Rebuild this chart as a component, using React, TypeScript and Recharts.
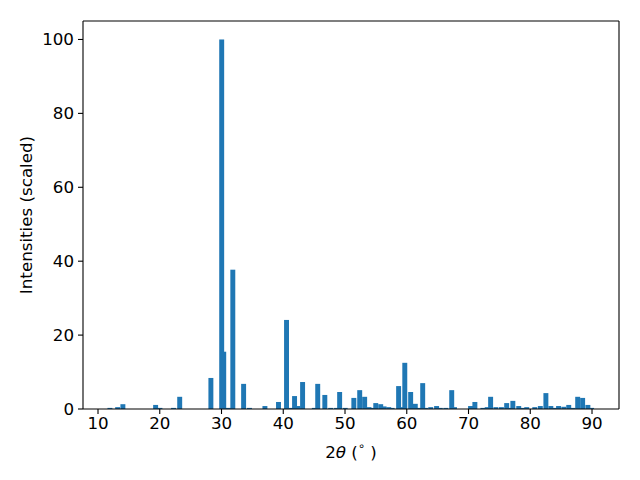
import React from 'react';
import { ComposedChart, Bar, XAxis, YAxis, Label, ReferenceLine } from 'recharts';

// 2θ positions (degrees) and scaled intensities
const positions: number[] = [
  11.9, 13.15, 14.0, 19.3, 20.0, 22.2, 23.2, 28.25,
  30.33, 30.0, 31.1, 31.8, 33.55, 34.5, 37.0, 39.2, 40.5, 41.25, 41.8, 42.35, 43.1,
  45.0, 45.55, 46.7, 47.65, 48.6, 49.1, 50.0, 51.4, 52.35, 53.15, 53.85, 54.4,
  54.95, 55.75, 56.3, 57.05, 57.6, 58.65, 59.1, 59.65, 60.6, 61.35, 62.0, 62.55,
  63.0, 63.85, 64.8, 65.4, 66.3, 67.25, 67.7, 70.3, 71.0, 72.3, 73.0, 73.55,
  74.4, 75.3, 76.15, 76.7, 77.15, 78.1, 78.8, 79.4, 80.7, 81.6, 82.5, 83.3,
  83.9, 84.55, 85.4, 86.2, 86.9, 87.65, 88.45, 89.3, 89.9,
];
const intensities: number[] = [
  0.3, 0.5, 1.3, 1.1, 0.3, 0.3, 3.3, 8.4,
  15.5, 100, 0.3, 37.7, 6.8, 0.3, 0.8, 1.9, 24.1, 0.3, 3.5, 0.8, 7.3,
  0.3, 6.8, 3.8, 0.3, 0.3, 4.6, 0.3, 3.0, 5.1, 3.3, 0.5, 0.3,
  1.6, 1.3, 0.7, 0.5, 0.3, 6.2, 0.5, 12.5, 4.6, 1.4, 0.3, 7.0,
  0.3, 0.5, 0.8, 0.3, 0.3, 5.1, 0.5, 0.8, 1.9, 0.3, 0.5, 3.3,
  0.5, 0.5, 1.6, 0.3, 2.2, 0.8, 0.3, 0.5, 0.5, 0.8, 4.3, 0.8,
  0.3, 0.8, 0.6, 1.1, 0.3, 3.3, 3.0, 1.1, 0.3,
];
const xTicks: number[] = [10, 20, 30, 40, 50, 60, 70, 80, 90];
const yTicks: number[] = [0, 20, 40, 60, 80, 100];

const data = positions.map((x, i) => ({ x, y: intensities[i] }));

const W = 640;
const H = 480;
const MARGIN = { top: 21, right: 21, bottom: 0, left: 0 };
const Y_AXIS_W = 83;
const X_AXIS_H = 71;
const X_DOMAIN: [number, number] = [7.57, 94.37];
const Y_DOMAIN: [number, number] = [0, 105];
const PLOT_W = W - MARGIN.left - MARGIN.right - Y_AXIS_W;
const BAR_W = (PLOT_W / (X_DOMAIN[1] - X_DOMAIN[0])) * 0.8;
const COLOR = '#1f77b4';
const FONT = '"DejaVu Sans", sans-serif';
const FS = 16.7;

const BarShape = (props: any) => {
  const { x, y, width, height } = props;
  if (height == null || isNaN(height) || height <= 0) return null;
  const cx = x + width / 2;
  return <rect x={cx - BAR_W / 2} y={y} width={BAR_W} height={height} fill={COLOR} />;
};

const tickStyle = { fill: '#000', fontSize: FS, fontFamily: FONT };

export default function App() {
  return (
    <div style={{ position: 'absolute', left: 0, top: 0, width: W, height: H, background: '#fff' }}>
      <ComposedChart width={W} height={H} data={data} margin={MARGIN}>
        <XAxis
          dataKey="x"
          type="number"
          domain={X_DOMAIN}
          ticks={xTicks}
          allowDataOverflow
          height={X_AXIS_H}
          tick={tickStyle}
          tickSize={5}
          tickMargin={3}
          axisLine={{ stroke: '#000', strokeWidth: 1.1 }}
          tickLine={{ stroke: '#000', strokeWidth: 1.1 }}
        >
          <Label
            content={() => (
              <text x={351} y={452} textAnchor="middle" dominantBaseline="central" fontSize={FS} fontFamily={FONT} fill="#000">
                2<tspan fontStyle="italic">θ</tspan>{' ('}
                <tspan fontSize={11.5} dy={-6}>∘</tspan>
                <tspan dy={6}>{' )'}</tspan>
              </text>
            )}
          />
        </XAxis>
        <YAxis
          type="number"
          domain={Y_DOMAIN}
          ticks={yTicks}
          allowDataOverflow
          width={Y_AXIS_W}
          tick={tickStyle}
          tickSize={5}
          tickMargin={4}
          axisLine={{ stroke: '#000', strokeWidth: 1.1 }}
          tickLine={{ stroke: '#000', strokeWidth: 1.1 }}
        >
          <Label
            content={() => (
              <text
                x={26}
                y={215}
                transform="rotate(-90 26 215)"
                textAnchor="middle"
                dominantBaseline="central"
                fontSize={FS}
                fontFamily={FONT}
                fill="#000"
              >
                Intensities (scaled)
              </text>
            )}
          />
        </YAxis>
        <ReferenceLine y={Y_DOMAIN[1]} stroke="#000" strokeWidth={1.1} ifOverflow="visible" />
        <ReferenceLine x={X_DOMAIN[1]} stroke="#000" strokeWidth={1.1} ifOverflow="visible" />
        <Bar dataKey="y" fill={COLOR} shape={BarShape} isAnimationActive={false} />
      </ComposedChart>
    </div>
  );
}
